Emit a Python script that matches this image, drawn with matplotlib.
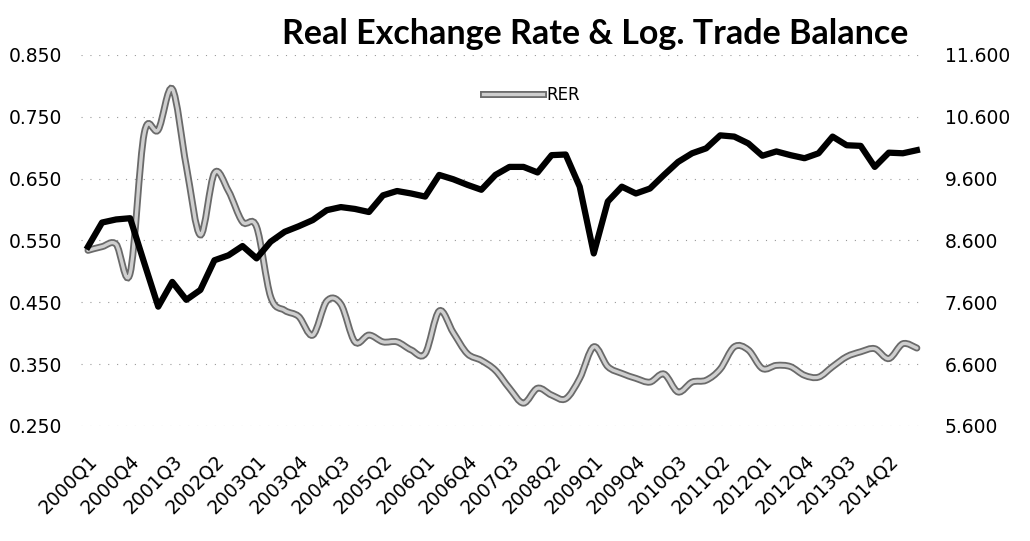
import numpy as np
import matplotlib
matplotlib.use("Agg")
import matplotlib.pyplot as plt
from matplotlib.path import Path
from matplotlib.patches import PathPatch
from matplotlib.lines import Line2D
from matplotlib.transforms import ScaledTranslation
import matplotlib.patheffects as pe

# -----------------------------------------
# data (quarterly, 2000Q1 - 2014Q4)
# -----------------------------------------
years = range(2000, 2015)
quarters = [f"{y}Q{q}" for y in years for q in range(1, 5)]

# real exchange rate, left axis
rer = [0.534, 0.540, 0.544, 0.497, 0.723, 0.729, 0.795, 0.670, 0.559, 0.659,
       0.630, 0.580, 0.572, 0.459, 0.437, 0.427, 0.397, 0.452, 0.447, 0.386,
       0.397, 0.386, 0.386, 0.373, 0.367, 0.436, 0.401, 0.367, 0.356, 0.340,
       0.311, 0.287, 0.311, 0.300, 0.294, 0.327, 0.378, 0.346, 0.335, 0.327,
       0.321, 0.334, 0.305, 0.321, 0.324, 0.342, 0.378, 0.373, 0.343, 0.348,
       0.346, 0.332, 0.329, 0.346, 0.362, 0.370, 0.375, 0.359, 0.383, 0.376]

# log trade balance, right axis
log_tb = [8.50, 8.89, 8.94, 8.96, 8.24, 7.53, 7.93, 7.64, 7.80, 8.28,
          8.36, 8.51, 8.31, 8.58, 8.74, 8.83, 8.93, 9.09, 9.14, 9.11,
          9.06, 9.33, 9.40, 9.36, 9.31, 9.66, 9.59, 9.50, 9.42, 9.66,
          9.79, 9.79, 9.70, 9.98, 9.99, 9.47, 8.39, 9.23, 9.47, 9.36,
          9.44, 9.66, 9.87, 10.01, 10.09, 10.30, 10.28, 10.17, 9.97, 10.04,
          9.98, 9.93, 10.01, 10.28, 10.14, 10.13, 9.79, 10.02, 10.01, 10.06]

left_ticks = [0.250, 0.350, 0.450, 0.550, 0.650, 0.750, 0.850]
right_ticks = [5.6, 6.6, 7.6, 8.6, 9.6, 10.6, 11.6]

plt.rcParams["font.family"] = ["DejaVu Sans"]

x = np.arange(len(quarters))

fig = plt.figure(figsize=(10.30, 5.41), dpi=100)
ax = fig.add_axes([0.0786, 0.2126, 0.8184, 0.6858])
ax2 = ax.twinx()


# smooth curve through the points (Excel style smoothed line)
def smooth_path(xs, ys):
    verts = [(xs[0], ys[0])]
    codes = [Path.MOVETO]
    n = len(xs)
    for i in range(n - 1):
        p0 = (xs[max(i - 1, 0)], ys[max(i - 1, 0)])
        p1 = (xs[i], ys[i])
        p2 = (xs[i + 1], ys[i + 1])
        p3 = (xs[min(i + 2, n - 1)], ys[min(i + 2, n - 1)])
        c1 = (p1[0] + (p2[0] - p0[0]) / 6, p1[1] + (p2[1] - p0[1]) / 6)
        c2 = (p2[0] - (p3[0] - p1[0]) / 6, p2[1] - (p3[1] - p1[1]) / 6)
        verts += [c1, c2, p2]
        codes += [Path.CURVE4] * 3
    return Path(verts, codes)


rer_effects = [pe.Stroke(linewidth=5, foreground="#6a6a6a"), pe.Normal()]
patch = PathPatch(smooth_path(x, rer), facecolor="none", edgecolor="#cfcfcf",
                  lw=2.4, path_effects=rer_effects, capstyle="round")
ax.add_patch(patch)

ax2.plot(x, log_tb, color="black", lw=4.5, solid_joinstyle="round")

# -----------------------------------------
# axes
# -----------------------------------------
ax.set_xlim(-0.5, len(quarters) - 0.5)
ax.set_ylim(0.25, 0.85)
ax2.set_ylim(5.6, 11.6)
ax.set_yticks(left_ticks)
ax.set_yticklabels([f"{v:.3f}" for v in left_ticks])
ax2.set_yticks(right_ticks)
ax2.set_yticklabels([f"{v:.3f}" for v in right_ticks])

ax.set_xticks(x[::3])
ax.set_xticklabels(quarters[::3], rotation=45, ha="right", rotation_mode="anchor")
shift = ScaledTranslation(5 / 100, 0, fig.dpi_scale_trans)
for lbl in ax.get_xticklabels():
    lbl.set_transform(lbl.get_transform() + shift)

for a in (ax, ax2):
    for s in a.spines.values():
        s.set_visible(False)
    a.tick_params(length=0, labelsize=13.5)
ax.tick_params(axis="y", pad=13.5)
ax2.tick_params(axis="y", pad=15)
ax.tick_params(axis="x", pad=18, labelsize=13.5)

ax.grid(axis="y", color="#9a9a9a", lw=0.8, linestyle=(0, (1, 7)))
ax.set_axisbelow(True)

fig.text(0.578, 0.938, "Real Exchange Rate & Log. Trade Balance",
         ha="center", va="center", fontsize=24.5, fontweight="bold",
         family=["Lato", "DejaVu Sans"])

handle = Line2D([], [], color="#cfcfcf", lw=2.4, path_effects=rer_effects)
fig.legend([handle], ["RER"], loc="center", bbox_to_anchor=(0.516, 0.824),
           frameon=False, fontsize=12, handlelength=3.6, handletextpad=0.2)

fig.savefig("out.png", dpi=100)
